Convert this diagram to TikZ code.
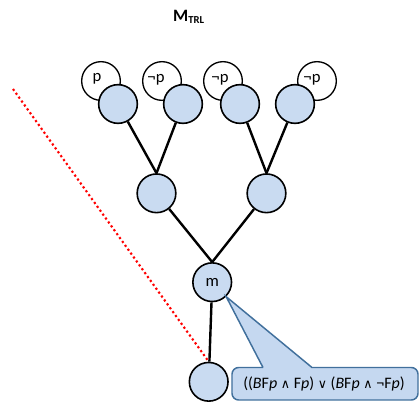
\documentclass[tikz,border=0pt]{standalone}
\usepackage{fontspec}
\setmainfont{Carlito}
\newfontfamily\symfont{DejaVu Sans}
\newcommand{\myand}{{\symfont\fontsize{9.5}{12}\selectfont ∧}}
\newcommand{\myor}{{\symfont\fontsize{9.5}{12}\selectfont ∨}}
\begin{document}
\begin{tikzpicture}[x=0.75pt,y=-0.75pt,
  world/.style={circle,draw=black,line width=1.2pt,fill=bluefill,minimum size=29pt,inner sep=0pt},
  ghost/.style={circle,draw=black,line width=1.0pt,fill=white,minimum size=29pt,inner sep=0pt},
  lbl/.style={inner sep=0pt,font=\fontsize{12.5}{14}\selectfont},
  flbl/.style={inner sep=0pt,font=\fontsize{12}{14}\selectfont},
  edge/.style={line width=1.8pt,black},
  reddot/.style={red,line width=1.6pt,dotted},
  callout/.style={draw=calloutborder,fill=calloutfill,line width=1.1pt,line join=miter}
]
\definecolor{bluefill}{RGB}{201,219,241}
\definecolor{calloutfill}{RGB}{197,216,240}
\definecolor{calloutborder}{RGB}{65,112,156}
\useasboundingbox (0,0) rectangle (419,403);

\node[font=\bfseries\fontsize{13}{15}\selectfont,inner sep=0pt] (title) at (189,17) {M\textsubscript{\fontsize{8}{9}\selectfont TRL}};

% white circles
\node[ghost] (w1) at (101,81) {};
\node[ghost] (w2) at (162,81) {};
\node[ghost] (w3) at (223,81) {};
\node[ghost] (w4) at (317,81) {};
\node[lbl] (t1) at (97,79) {p};
\node[lbl] (t2) at (156,80) {¬p};
\node[lbl] (t3) at (220,80) {¬p};
\node[lbl] (t4) at (312,80) {¬p};

% worlds
\node[world] (b1) at (118,104) {};
\node[world] (b2) at (183,104) {};
\node[world] (b3) at (240,104) {};
\node[world] (b4) at (295,104) {};
\node[world] (m1) at (156.5,193.3) {};
\node[world] (m2) at (266.5,193.3) {};
\node[world,font=\fontsize{12.5}{14}\selectfont] (m) at (212.2,282.2) {m};
\node[world] (bot) at (208.7,381.8) {};

\draw[edge] (b1) -- (m1.north);
\draw[edge] (b2) -- (m1.north);
\draw[edge] (b3) -- (m2.north);
\draw[edge] (b4) -- (m2.north);
\draw[edge] (m1) -- (m.north);
\draw[edge] (m2) -- (m.north);
\draw[edge] (m) -- (bot);

\coordinate (r0) at (13,89);
\draw[reddot] (r0) -- (bot.north);

% callout
\coordinate (cb1) at (263,367.5);
\coordinate (cb2) at (312,367.5);
\draw[callout] (cb1) -- (m.-46) -- (cb2) [rounded corners=5pt] -- (418,367.5) -- (418,400) -- (232,400) -- (232,367.5) -- (cb1);
\node[flbl] (formula) at (324,384) {((\textit{B}F\textit{p} \myand{} F\textit{p}) \myor{} (\textit{B}F\textit{p} \myand{} ¬F\textit{p})};
\end{tikzpicture}
\end{document}
